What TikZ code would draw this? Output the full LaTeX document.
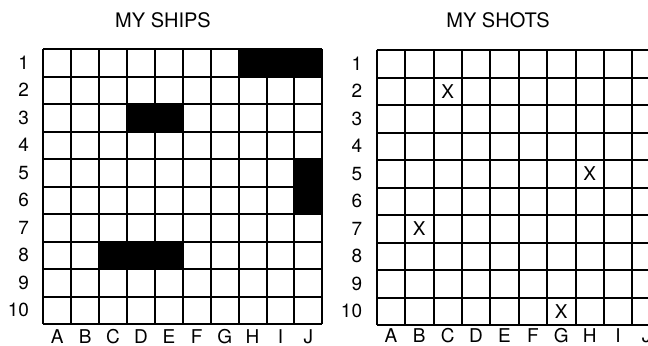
\documentclass[tikz,border=0pt]{standalone}
\usepackage{fontspec}
\setmainfont{TeX Gyre Heros}
\usetikzlibrary{positioning}
\tikzset{
  gridline/.style={line width=1pt},
  ship/.style={fill=black},
  lbl/.style={font=\fontsize{9.5}{11}\selectfont,inner sep=0pt},
  ttl/.style={font=\fontsize{10}{12}\selectfont,inner sep=0pt},
  shot/.style={font=\fontsize{9.5}{11}\selectfont,inner sep=0pt},
}
\begin{document}
\begin{tikzpicture}[x=0.5pt,y=-0.5pt]
\useasboundingbox (0,0) rectangle (648,345);
\clip (0,0) rectangle (648,345);
\node[ttl] (shipstitle) at (163,20) {MY SHIPS};
\node[ttl] (shotstitle) at (498,20) {MY SHOTS};
% my ships
\begin{scope}[shift={(43.3,49)},x=13.95pt,y=-13.75pt]
\fill[ship] (7,0) rectangle (10,1);
\fill[ship] (3,2) rectangle (5,3);
\fill[ship] (9,4) rectangle (10,6);
\fill[ship] (2,7) rectangle (5,8);
\foreach \k in {0,...,10} {
  \draw[gridline] (\k,0) -- (\k,10);
  \draw[gridline] (0,\k) -- (10,\k);
}
\foreach \l [count=\i] in {A,...,J}
  \node[lbl] (shipcol\i) at (\i-0.5,10.45) {\l};
\foreach \r in {1,...,10}
  \node[lbl,anchor=east] (shiprow\r) at (-0.5,\r-0.5) {\r};
\end{scope}
% my shots
\begin{scope}[shift={(376.7,50)},x=14.2pt,y=-13.75pt]
\foreach \k in {0,...,10} {
  \draw[gridline] (\k,0) -- (\k,10);
  \draw[gridline] (0,\k) -- (10,\k);
}
\foreach \l [count=\i] in {A,...,J}
  \node[lbl] (shotcol\i) at (\i-0.5,10.4) {\l};
\foreach \r in {1,...,10}
  \node[lbl,anchor=east] (shotrow\r) at (-0.5,\r-0.5) {\r};
\foreach \c/\r/\n in {3/2/c2,8/5/h5,2/7/b7,7/10/g10}
  \node[shot] (shot\n) at (\c-0.5,\r-0.5) {X};
\end{scope}
\end{tikzpicture}
\end{document}
